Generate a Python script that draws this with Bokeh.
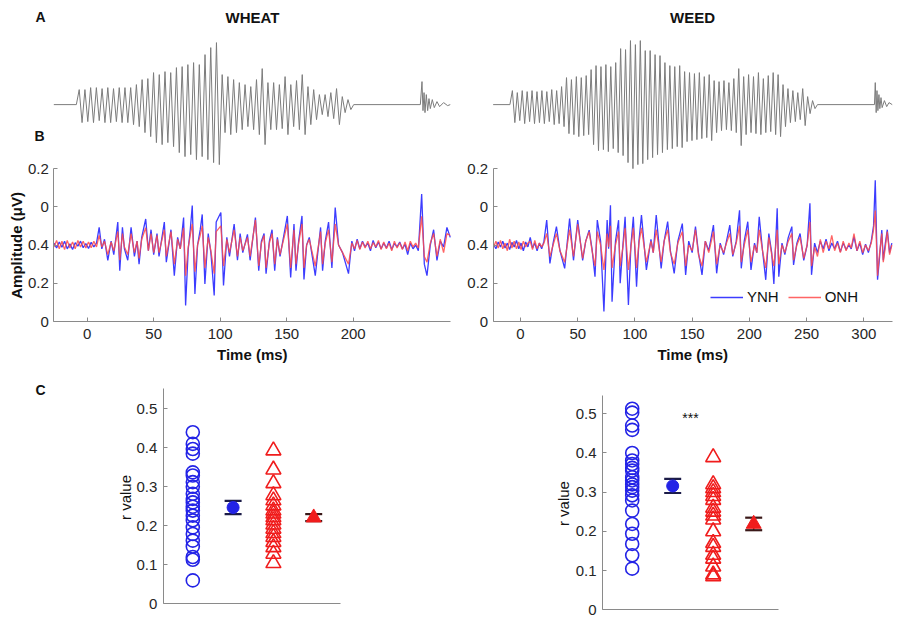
import math
from bokeh.plotting import figure
from bokeh.layouts import column, row
from bokeh.models import FixedTicker, Label, Legend, LegendItem, Range1d
from bokeh.embed import file_html
from bokeh.resources import INLINE

FONT = "Liberation Sans"
AXIS_COLOR = "#8a8a8a"
TEXT_COLOR = "#262626"
WAVE_COLOR = "#7c7c7c"
BLUE_LINE = "#3c3cff"
RED_LINE = "#ff4a4a"
BLUE = "#2323e6"
RED = "#f01c1c"

# ---------------- Panel A: stimulus waveforms (peak per glottal cycle, a.u.) --------
WHEAT_CYCLE_START = -6.0   # ms
WHEAT_CYCLE_PERIOD = 4.3   # ms
WHEAT_UP = [15, 15, 17, 17, 16, 17, 16, 17, 17, 17,
            20, 25, 26, 32, 30, 33, 32, 37, 38, 40,
            42, 40, 50, 57, 62, 30, 28, 25, 22, 20,
            18, 25, 36, 22, 22, 20, 28, 20, 24, 30,
            18, 15, 10, 10, 12, 16, 8, 5]
WHEAT_DOWN = [18, 17, 18, 16, 18, 18, 17, 18, 18, 20,
              22, 28, 32, 38, 40, 38, 42, 48, 52, 50,
              55, 52, 55, 58, 60, 28, 30, 28, 25, 22,
              25, 30, 40, 25, 25, 24, 30, 22, 25, 30,
              20, 15, 10, 12, 14, 20, 8, 5]
WHEAT_BURST_T = [250.5, 251.75, 252.5, 253.3, 254.0, 255.0, 256.0, 257.0,
                 258.0, 259.5, 261.0, 263.0, 265.0, 268.0, 271.0, 273.0]
WHEAT_BURST_V = [0, 23, -6, 12, -8, 10, -6, 6, -4, 5, -3, 3, -2, 2, -1, 0]

WEED_CYCLE_START = -7.1
WEED_CYCLE_PERIOD = 4.3
WEED_UP = [14, 12, 14, 13, 14, 13, 14, 13, 15, 14,
           18, 27, 25, 28, 27, 29, 35, 39, 38, 40,
           38, 42, 56, 55, 64, 60, 64, 54, 54, 50,
           49, 42, 39, 38, 39, 33, 32, 31, 32, 28,
           30, 24, 23, 24, 22, 26, 36, 28, 30, 28,
           32, 26, 29, 32, 30, 20, 16, 14, 12, 16,
           8, 4]
WEED_DOWN = [18, 16, 19, 17, 19, 18, 19, 17, 20, 19,
             22, 29, 30, 32, 31, 30, 40, 46, 45, 47,
             44, 48, 51, 58, 64, 60, 59, 55, 53, 50,
             48, 45, 44, 42, 43, 37, 36, 35, 34, 33,
             36, 28, 26, 25, 26, 28, 41, 30, 28, 29,
             30, 28, 27, 30, 32, 22, 18, 17, 15, 21,
             9, 4]
WEED_BURST_T = [309.3, 310.0, 310.8, 311.5, 312.3, 313.2, 314.0, 315.0,
                316.0, 318.0, 320.0, 322.0, 324.8]
WEED_BURST_V = [0, 22, -8, 14, -6, 10, -4, 7, -3, 4, -2, 2, 0]

# ---------------- Panel B: responses (tick-index units, labels below) -------------
AMP_TICKS = [0, 1, 2, 3, 4]
AMP_TICK_LABELS = ["0", "0.2", "0.4", "0", "0.2"]
WHEAT_TIME_TICKS = [0, 50, 100, 150, 200]
WEED_TIME_TICKS = [0, 50, 100, 150, 200, 250, 300]
WHEAT_TIME_SPAN = (-25.1, 273.4)
WEED_TIME_SPAN = (-23.9, 324.8)

WHEAT_T = [-25, -23, -21, -19, -17, -15, -13, -11, -9, -7,
           -5, -3, -1, 1, 3, 5, 7, 9, 11, 13,
           15.5, 18, 20, 23, 24.5, 26.5, 28, 30.5, 33, 35.5,
           37.5, 39, 41, 44, 46, 48, 50, 52.5, 54, 58,
           59.5, 63, 65.5, 68, 70, 72.5, 74, 76, 77.5, 79,
           81, 83, 85, 86.5, 88.5, 91, 93, 95.5, 97, 100.5,
           102.5, 105, 107, 110.5, 113, 115, 117, 120.5, 122.5, 126.5,
           129, 131, 133, 134.5, 137, 139, 141, 143, 145, 150.5,
           153, 155.5, 157, 159, 161.5, 163, 165, 167, 171.5, 175.5,
           177, 179, 181.5, 184, 186.5, 189, 192, 196.5, 199, 201,
           203, 205, 207, 209, 211, 213, 215, 217, 219, 221,
           223, 225, 227, 229, 231, 233, 235, 237, 239, 241,
           243, 245, 247, 249, 251.5, 253.5, 255.5, 258, 260.5, 263,
           265.5, 268, 270.5, 273]
WHEAT_YNH = [2.05, 1.92, 2.08, 1.94, 2.10, 1.90, 2.03, 1.88, 2.06, 1.97,
             2.10, 1.93, 2.04, 1.91, 2.07, 1.95, 2.05, 2.46, 1.90, 2.15,
             1.60, 2.10, 1.75, 2.60, 1.33, 2.46, 1.90, 1.60, 2.46, 1.70,
             2.10, 1.50, 2.20, 2.68, 1.85, 2.40, 1.75, 2.30, 1.70, 2.60,
             1.55, 2.40, 1.20, 2.20, 1.90, 2.72, 0.42, 1.90, 2.40, 3.03,
             0.72, 2.00, 2.40, 2.80, 0.98, 2.30, 1.80, 0.68, 2.60, 2.85,
             0.94, 2.20, 1.70, 2.55, 1.60, 2.30, 1.80, 2.28, 1.60, 2.72,
             1.33, 2.10, 2.30, 1.25, 2.10, 2.40, 1.33, 2.20, 1.70, 2.76,
             1.15, 2.55, 1.33, 2.10, 2.76, 1.10, 2.00, 2.20, 1.20, 2.46,
             1.33, 2.10, 2.60, 1.40, 2.98, 2.00, 1.80, 1.25, 2.10, 1.85,
             2.15, 1.90, 2.10, 1.95, 2.05, 1.85, 2.12, 1.93, 2.08, 1.90,
             2.05, 1.92, 2.10, 1.88, 2.04, 1.95, 2.08, 1.90, 2.02, 1.75,
             2.05, 1.90, 2.00, 1.85, 3.33, 1.50, 1.20, 2.00, 2.40, 1.60,
             2.10, 1.95, 2.46, 2.20]
WHEAT_ONH = [1.95, 2.12, 1.90, 2.10, 1.88, 2.12, 1.92, 2.08, 1.90, 2.12,
             1.95, 2.10, 1.92, 2.08, 1.93, 2.10, 1.95, 2.25, 1.95, 2.10,
             1.75, 2.08, 1.85, 2.35, 1.60, 2.30, 1.95, 1.75, 2.30, 1.80,
             2.10, 1.65, 2.15, 2.45, 1.85, 2.30, 1.80, 2.25, 1.80, 2.40,
             1.70, 2.35, 1.50, 2.15, 1.90, 2.45, 1.20, 1.95, 2.25, 2.55,
             1.30, 2.00, 2.25, 2.50, 1.40, 2.20, 1.85, 1.25, 2.35, 2.50,
             1.45, 2.15, 1.80, 2.40, 1.70, 2.20, 1.85, 2.20, 1.70, 2.65,
             1.45, 2.05, 2.25, 1.40, 2.05, 2.30, 1.50, 2.15, 1.75, 2.55,
             1.40, 2.40, 1.50, 2.05, 2.55, 1.40, 2.00, 2.15, 1.45, 2.35,
             1.50, 2.05, 2.40, 1.55, 2.55, 2.00, 1.80, 1.50, 2.05, 1.90,
             2.12, 1.88, 2.08, 1.92, 2.10, 1.90, 2.06, 1.95, 2.12, 1.88,
             2.08, 1.90, 2.05, 1.85, 2.10, 1.92, 2.06, 1.88, 2.08, 1.85,
             2.10, 1.95, 2.05, 1.92, 2.75, 1.70, 1.55, 2.05, 2.30, 1.70,
             2.15, 1.80, 2.30, 2.25]

WEED_T = [-23.5, -21.5, -19.5, -17.5, -15.5, -13.5, -11.5, -9.5, -7.5, -5.5,
          -3.5, -1.5, 0.5, 2.5, 4.5, 6.5, 8.5, 10.5, 12.5, 14.5,
          16.5, 18.5, 20.5, 22.9, 25.7, 28.5, 31.4, 34.5, 38.6, 42.9,
          46.3, 50.0, 54.3, 57.0, 60.0, 62.5, 65.1, 67.1, 70.0, 72.9,
          75.7, 77.0, 78.6, 80.0, 83.0, 85.7, 87.1, 89.5, 91.4, 94.3,
          96.5, 98.6, 101.4, 103.5, 105.7, 110.0, 114.0, 116.0, 118.6, 122.9,
          125.5, 128.6, 131.0, 134.3, 137.5, 141.4, 144.3, 147.0, 150.0, 152.9,
          155.5, 158.6, 161.5, 164.5, 168.6, 171.4, 174.5, 177.5, 180.0, 182.9,
          185.5, 188.5, 191.4, 192.9, 195.5, 198.6, 201.4, 204.5, 206.5, 208.6,
          211.5, 214.3, 217.0, 219.5, 221.4, 224.3, 225.7, 228.5, 231.0, 234.0,
          237.1, 238.6, 241.5, 244.3, 247.5, 250.5, 252.9, 254.3, 257.0, 259.5,
          262.0, 264.5, 267.0, 269.5, 272.0, 274.5, 277.0, 279.5, 282.0, 284.5,
          287.0, 289.0, 291.4, 294.0, 296.5, 299.0, 301.5, 304.0, 306.5, 308.5,
          310.0, 312.0, 313.8, 315.7, 317.0, 318.6, 320.5, 322.5, 324.5]
WEED_YNH = [2.02, 1.90, 2.08, 1.95, 2.10, 1.92, 2.05, 1.88, 2.07, 1.95,
            2.12, 1.90, 2.05, 1.85, 2.08, 1.95, 2.20, 1.92, 2.05, 1.85,
            2.05, 1.90, 2.10, 2.65, 1.52, 2.05, 2.48, 1.85, 1.39, 2.69,
            1.60, 2.65, 1.60, 2.10, 2.39, 1.90, 1.17, 2.65, 2.10, 0.26,
            2.65, 1.90, 3.04, 0.52, 2.10, 2.65, 1.00, 2.00, 2.74, 0.43,
            2.00, 2.74, 0.91, 2.10, 2.78, 1.35, 2.15, 1.80, 2.78, 1.39,
            2.10, 2.61, 1.85, 1.26, 2.10, 2.56, 1.22, 2.10, 1.80, 2.48,
            1.80, 1.22, 2.10, 1.85, 2.52, 1.26, 2.05, 1.75, 2.10, 2.52,
            1.70, 2.10, 2.91, 1.39, 2.10, 2.61, 1.35, 2.05, 1.80, 2.74,
            1.85, 1.09, 2.30, 1.80, 0.98, 2.96, 1.17, 2.05, 1.75, 2.20,
            2.48, 1.48, 2.05, 2.30, 1.60, 2.00, 3.09, 1.22, 2.05, 1.80,
            2.10, 1.90, 2.15, 1.85, 2.05, 1.90, 2.10, 1.82, 2.05, 1.88,
            2.00, 1.90, 2.22, 1.85, 2.05, 1.75, 2.02, 1.80, 2.10, 2.50,
            3.69, 1.09, 1.70, 2.39, 1.60, 2.00, 2.40, 1.80, 2.05]
WEED_ONH = [1.95, 2.10, 1.92, 2.12, 1.90, 2.05, 1.85, 2.15, 1.92, 2.10,
            1.90, 2.08, 1.88, 2.10, 1.95, 2.05, 2.10, 1.88, 2.12, 1.90,
            2.05, 1.95, 2.05, 2.30, 1.70, 2.00, 2.30, 1.85, 1.55, 2.40,
            1.70, 2.55, 1.65, 2.10, 2.35, 1.85, 1.45, 2.35, 2.00, 1.35,
            2.30, 1.95, 2.50, 1.40, 2.00, 2.35, 1.45, 1.95, 2.45, 1.35,
            1.95, 2.45, 1.40, 2.05, 2.45, 1.55, 2.10, 1.80, 2.40, 1.55,
            2.10, 2.40, 1.80, 1.50, 2.05, 2.35, 1.45, 2.00, 1.85, 2.40,
            1.75, 1.45, 2.10, 1.80, 2.35, 1.50, 2.00, 1.80, 2.05, 2.30,
            1.75, 2.05, 2.50, 1.55, 2.00, 2.40, 1.55, 2.00, 1.80, 2.40,
            1.85, 1.40, 2.20, 1.75, 1.45, 2.40, 1.50, 2.00, 1.80, 2.10,
            2.30, 1.60, 2.00, 2.20, 1.65, 2.00, 2.60, 1.45, 1.95, 1.70,
            2.15, 1.80, 2.10, 1.90, 2.25, 1.85, 2.05, 1.80, 2.10, 1.85,
            2.05, 1.92, 2.30, 1.85, 2.10, 1.80, 2.00, 1.85, 2.05, 2.40,
            2.90, 1.20, 1.80, 2.30, 1.55, 1.90, 2.35, 1.75, 2.00]

# ---------------- Panel C: r values -------------------------------------------------
R_TICKS = [0, 0.1, 0.2, 0.3, 0.4, 0.5]
R_TICK_LABELS = ["0", "0.1", "0.2", "0.3", "0.4", "0.5"]
GROUP_POS = [1, 2, 3, 4]  # YNH individual, YNH mean, ONH individual, ONH mean

WHEAT_R_YNH = [0.44, 0.41, 0.397, 0.385, 0.337, 0.329, 0.312, 0.30, 0.282, 0.269, 0.26,
               0.249, 0.239, 0.226, 0.214, 0.196, 0.179, 0.162, 0.147, 0.12, 0.113, 0.06]
WHEAT_R_ONH = [0.393, 0.344, 0.309, 0.278, 0.265, 0.252, 0.239, 0.231, 0.222, 0.214,
               0.203, 0.192, 0.181, 0.171, 0.158, 0.145, 0.128, 0.104]
WHEAT_MEAN = [0.247, 0.221]
WHEAT_SE = [0.017, 0.009]

WEED_R_YNH = [0.513, 0.503, 0.47, 0.459, 0.40, 0.381, 0.372, 0.362, 0.355, 0.338, 0.33,
              0.32, 0.313, 0.304, 0.292, 0.279, 0.253, 0.219, 0.194, 0.168, 0.139, 0.105]
WEED_R_ONH = [0.389, 0.32, 0.31, 0.30, 0.29, 0.28, 0.26, 0.25, 0.24, 0.23,
              0.20, 0.17, 0.16, 0.14, 0.13, 0.11, 0.09, 0.085]
WEED_MEAN = [0.316, 0.219]
WEED_SE = [0.018, 0.016]

assert len(WHEAT_T) == len(WHEAT_YNH) == len(WHEAT_ONH)
assert len(WEED_T) == len(WEED_YNH) == len(WEED_ONH)

# ---------------- helpers ------------------------------------------------------------
A_BASELINE = 5.67          # where panel A sits above panel B (tick-index units)
A_SCALE = 1.0 / 38.25      # a.u. -> tick-index units
LEFT_W, RIGHT_W = 458, 442
TOP_H, BOTTOM_H = 365, 255


def wave_xy(x0, start, period, ups, downs, burst_t, burst_v):
    xs = [x0, start - period * 0.5]
    ys = [0, 0]
    for i, (u, d) in enumerate(zip(ups, downs)):
        t = start + i * period
        xs += [t, t + period * 0.5]
        ys += [u, -d]
    xs.append(start + len(ups) * period)
    ys.append(0)
    xs += list(burst_t)
    ys += list(burst_v)
    return xs, [A_BASELINE + y * A_SCALE for y in ys]


def style_axis(ax, size="15px"):
    ax.axis_line_color = AXIS_COLOR
    ax.axis_line_width = 1
    ax.major_tick_line_color = AXIS_COLOR
    ax.major_tick_in = 4
    ax.major_tick_out = 0
    ax.minor_tick_line_color = None
    ax.major_label_text_font = FONT
    ax.major_label_text_font_size = size
    ax.major_label_text_color = TEXT_COLOR


def base_fig(width, height, xr, yr):
    p = figure(output_backend="svg", toolbar_location=None, title=None,
               width=width, height=height, x_range=Range1d(*xr), y_range=Range1d(*yr),
               min_border_left=0, min_border_right=0, min_border_top=0,
               min_border_bottom=0)
    p.xgrid.visible = False
    p.ygrid.visible = False
    p.outline_line_color = None
    p.background_fill_color = "white"
    p.border_fill_color = "white"
    for ax in p.xaxis + p.yaxis:
        style_axis(ax)
    return p


def txt(p, x, y, s, size="15px", bold=True, angle=0.0, align="center"):
    p.add_layout(Label(x=x, y=y, text=s, text_font=FONT, text_font_size=size,
                       text_font_style="bold" if bold else "normal",
                       text_color="#111111", text_align=align,
                       text_baseline="middle", angle=angle))


def response_fig(width, xr, span, ticks):
    p = base_fig(width, TOP_H, xr, (-1.150, 8.392))
    p.yaxis.fixed_location = span[0]
    p.yaxis.ticker = FixedTicker(ticks=AMP_TICKS)
    p.yaxis.bounds = (AMP_TICKS[0], AMP_TICKS[-1])
    p.yaxis.major_label_overrides = {t: l for t, l in zip(AMP_TICKS, AMP_TICK_LABELS)}
    p.yaxis.major_label_standoff = 5
    p.xaxis.fixed_location = 0
    p.xaxis.bounds = span
    p.xaxis.ticker = FixedTicker(ticks=ticks)
    p.xaxis.major_label_standoff = 7
    txt(p, (span[0] + span[1]) / 2, -0.86, "Time (ms)")
    return p


# ---------------- top row: A + B -----------------------------------------------------
pL = response_fig(LEFT_W, (-65.19, 279.2), WHEAT_TIME_SPAN, WHEAT_TIME_TICKS)
wx, wy = wave_xy(WHEAT_TIME_SPAN[0], WHEAT_CYCLE_START, WHEAT_CYCLE_PERIOD,
                 WHEAT_UP, WHEAT_DOWN, WHEAT_BURST_T, WHEAT_BURST_V)
pL.line(wx, wy, line_color=WAVE_COLOR, line_width=1)
pL.line(WHEAT_T, WHEAT_YNH, line_color=BLUE_LINE, line_width=1.3)
pL.line(WHEAT_T, WHEAT_ONH, line_color=RED_LINE, line_width=1.3, line_alpha=0.85)
txt(pL, 124.3, 7.95, "WHEAT")
txt(pL, -35.1, 7.97, "A", size="14px")
txt(pL, -35.9, 4.86, "B", size="14px")
txt(pL, -53.2, 1.99, "Amplitude (\u03bcV)", angle=math.pi / 2)

pR = response_fig(RIGHT_W, (-54.18, 332.05), WEED_TIME_SPAN, WEED_TIME_TICKS)
vx, vy = wave_xy(WEED_TIME_SPAN[0], WEED_CYCLE_START, WEED_CYCLE_PERIOD,
                 WEED_UP, WEED_DOWN, WEED_BURST_T, WEED_BURST_V)
pR.line(vx, vy, line_color=WAVE_COLOR, line_width=1)
rb = pR.line(WEED_T, WEED_YNH, line_color=BLUE_LINE, line_width=1.3)
rr = pR.line(WEED_T, WEED_ONH, line_color=RED_LINE, line_width=1.3, line_alpha=0.85)
txt(pR, 150.3, 7.95, "WEED")
leg = Legend(items=[LegendItem(label="YNH", renderers=[rb]),
                    LegendItem(label="ONH", renderers=[rr])],
             orientation="horizontal", location=(252, 60),
             glyph_width=33, glyph_height=16, label_standoff=4, spacing=9,
             padding=0, margin=0, border_line_color=None, background_fill_alpha=0,
             label_text_font=FONT, label_text_font_size="15px",
             label_text_color="#111111")
pR.add_layout(leg)


# ---------------- bottom row: C -----------------------------------------------------
def r_fig(width, xr, yr, xspan, ytop, ynh, onh, means, ses):
    p = base_fig(width, BOTTOM_H, xr, yr)
    p.yaxis.fixed_location = xspan[0]
    p.yaxis.bounds = (0, ytop)
    p.yaxis.ticker = FixedTicker(ticks=R_TICKS)
    p.yaxis.major_label_overrides = {t: l for t, l in zip(R_TICKS, R_TICK_LABELS)}
    p.yaxis.major_label_standoff = 6
    p.xaxis.fixed_location = 0
    p.xaxis.bounds = xspan
    p.xaxis.ticker = FixedTicker(ticks=[])
    p.xaxis.major_label_text_font_size = "0px"

    p.scatter([GROUP_POS[0]] * len(ynh), ynh, marker="circle", size=13,
              fill_color=None, line_color=BLUE, line_width=1.6)
    p.scatter([GROUP_POS[2]] * len(onh), onh, marker="triangle", size=15,
              fill_color=None, line_color=RED, line_width=1.6)

    mx = [GROUP_POS[1], GROUP_POS[3]]
    lo = [m - s for m, s in zip(means, ses)]
    hi = [m + s for m, s in zip(means, ses)]
    caps = ["#1c1c48", "#3a1818"]
    p.segment(mx, lo, mx, hi, line_color=caps, line_width=1.5)
    p.scatter(mx + mx, lo + hi, marker="dash", size=17, line_color=caps + caps,
              line_width=2.2)
    p.scatter([mx[0]], [means[0]], marker="circle", size=12, fill_color=BLUE,
              line_color=BLUE)
    p.scatter([mx[1]], [means[1]], marker="triangle", size=15, fill_color=RED,
              line_color=RED)
    return p


cL = r_fig(LEFT_W, (-3.772, 7.593), (-0.0428, 0.6110), (0.27, 4.66), 0.551,
           WHEAT_R_YNH, WHEAT_R_ONH, WHEAT_MEAN, WHEAT_SE)
txt(cL, -2.78, 0.547, "C", size="14px")
txt(cL, -0.67, 0.2726, "r value", bold=False, angle=math.pi / 2)

cR = r_fig(RIGHT_W, (-3.289, 7.625), (-0.0273, 0.6232), (0.267, 4.61), 0.546,
           WEED_R_YNH, WEED_R_ONH, WEED_MEAN, WEED_SE)
txt(cR, -0.696, 0.271, "r value", bold=False, angle=math.pi / 2)
txt(cR, 2.44, 0.49, "***", size="14px", bold=False)

layout = column(row(pL, pR, spacing=0), row(cL, cR, spacing=0), spacing=0)

with open("out.html", "w") as f:
    f.write(file_html(layout, INLINE, title="WHEAT / WEED"))
